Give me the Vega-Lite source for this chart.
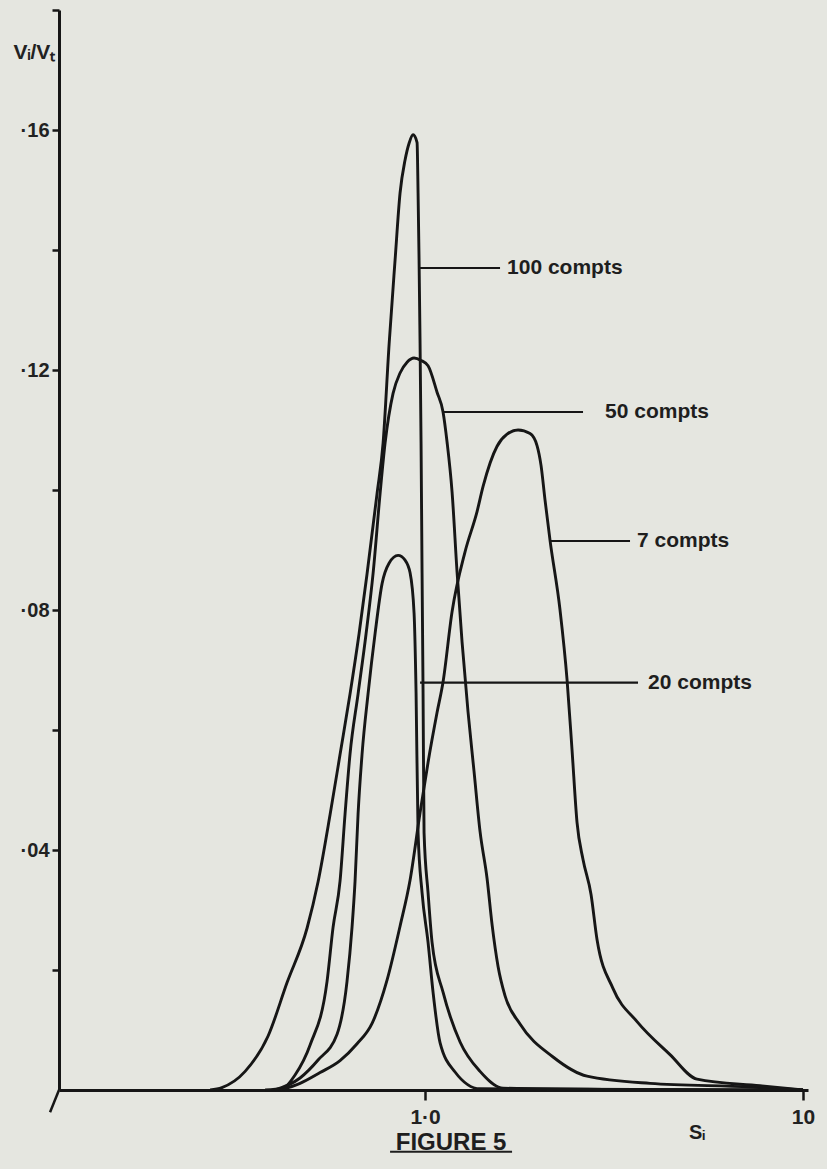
{
  "$schema": "https://vega.github.io/schema/vega-lite/v6.json",
  "width": 749,
  "height": 1080,
  "autosize": {"type": "none"},
  "padding": {"left": 59, "top": 10, "right": 19, "bottom": 79},
  "background": "#e5e6e0",
  "config": {"view": {"stroke": null}, "font": "Liberation Sans"},
  "datasets": {
    "curves": [
      {"c": "100", "s": 0.27, "v": 0},
      {"c": "100", "s": 0.29, "v": 0.0004},
      {"c": "100", "s": 0.3341, "v": 0.0031},
      {"c": "100", "s": 0.3843, "v": 0.009},
      {"c": "100", "s": 0.4314, "v": 0.0179},
      {"c": "100", "s": 0.4874, "v": 0.027},
      {"c": "100", "s": 0.5211, "v": 0.0347},
      {"c": "100", "s": 0.5607, "v": 0.0459},
      {"c": "100", "s": 0.5957, "v": 0.0559},
      {"c": "100", "s": 0.6331, "v": 0.066},
      {"c": "100", "s": 0.6688, "v": 0.076},
      {"c": "100", "s": 0.7022, "v": 0.086},
      {"c": "100", "s": 0.7464, "v": 0.0994},
      {"c": "100", "s": 0.7743, "v": 0.1078},
      {"c": "100", "s": 0.8035, "v": 0.1244},
      {"c": "100", "s": 0.833, "v": 0.1383},
      {"c": "100", "s": 0.8587, "v": 0.1495},
      {"c": "100", "s": 0.8853, "v": 0.155},
      {"c": "100", "s": 0.9073, "v": 0.1578},
      {"c": "100", "s": 0.9296, "v": 0.1592},
      {"c": "100", "s": 0.9525, "v": 0.1579},
      {"c": "100", "s": 0.9583, "v": 0.1495},
      {"c": "100", "s": 0.9641, "v": 0.1384},
      {"c": "100", "s": 0.97, "v": 0.1245},
      {"c": "100", "s": 0.9759, "v": 0.1079},
      {"c": "100", "s": 0.9819, "v": 0.0862},
      {"c": "100", "s": 0.9879, "v": 0.0662},
      {"c": "100", "s": 0.9939, "v": 0.0429},
      {"c": "100", "s": 1.0184, "v": 0.0329},
      {"c": "100", "s": 1.0436, "v": 0.0246},
      {"c": "100", "s": 1.1158, "v": 0.0163},
      {"c": "100", "s": 1.2378, "v": 0.008},
      {"c": "100", "s": 1.3979, "v": 0.0031},
      {"c": "100", "s": 1.6084, "v": 0.0003},
      {"c": "100", "s": 3.0, "v": 0.0001},
      {"c": "100", "s": 10, "v": 0},
      {"c": "50", "s": 0.3774, "v": 0},
      {"c": "50", "s": 0.421, "v": 0.0003},
      {"c": "50", "s": 0.4529, "v": 0.0025},
      {"c": "50", "s": 0.4964, "v": 0.0075},
      {"c": "50", "s": 0.5504, "v": 0.0181},
      {"c": "50", "s": 0.5709, "v": 0.0271},
      {"c": "50", "s": 0.5957, "v": 0.0348},
      {"c": "50", "s": 0.6142, "v": 0.046},
      {"c": "50", "s": 0.6331, "v": 0.056},
      {"c": "50", "s": 0.6649, "v": 0.066},
      {"c": "50", "s": 0.698, "v": 0.076},
      {"c": "50", "s": 0.7286, "v": 0.0861},
      {"c": "50", "s": 0.7603, "v": 0.0994},
      {"c": "50", "s": 0.7838, "v": 0.1078},
      {"c": "50", "s": 0.8229, "v": 0.1161},
      {"c": "50", "s": 0.8587, "v": 0.1195},
      {"c": "50", "s": 0.8962, "v": 0.1213},
      {"c": "50", "s": 0.9352, "v": 0.122},
      {"c": "50", "s": 0.9759, "v": 0.1216},
      {"c": "50", "s": 1.0184, "v": 0.1207},
      {"c": "50", "s": 1.0758, "v": 0.1163},
      {"c": "50", "s": 1.1158, "v": 0.113},
      {"c": "50", "s": 1.1434, "v": 0.108},
      {"c": "50", "s": 1.1788, "v": 0.0997},
      {"c": "50", "s": 1.2153, "v": 0.0863},
      {"c": "50", "s": 1.2528, "v": 0.0747},
      {"c": "50", "s": 1.2994, "v": 0.063},
      {"c": "50", "s": 1.3477, "v": 0.0531},
      {"c": "50", "s": 1.3979, "v": 0.0431},
      {"c": "50", "s": 1.4588, "v": 0.0353},
      {"c": "50", "s": 1.504, "v": 0.0276},
      {"c": "50", "s": 1.5601, "v": 0.0206},
      {"c": "50", "s": 1.6281, "v": 0.0157},
      {"c": "50", "s": 1.7836, "v": 0.011},
      {"c": "50", "s": 2.1814, "v": 0.0055},
      {"c": "50", "s": 2.6827, "v": 0.0023},
      {"c": "50", "s": 3.937, "v": 0.0011},
      {"c": "50", "s": 7.24, "v": 0.0005},
      {"c": "50", "s": 10, "v": 0},
      {"c": "20", "s": 0.401, "v": 0},
      {"c": "20", "s": 0.4669, "v": 0.002},
      {"c": "20", "s": 0.5211, "v": 0.005},
      {"c": "20", "s": 0.585, "v": 0.0093},
      {"c": "20", "s": 0.6216, "v": 0.0181},
      {"c": "20", "s": 0.641, "v": 0.0272},
      {"c": "20", "s": 0.6528, "v": 0.0348},
      {"c": "20", "s": 0.6649, "v": 0.046},
      {"c": "20", "s": 0.6813, "v": 0.056},
      {"c": "20", "s": 0.7065, "v": 0.066},
      {"c": "20", "s": 0.7376, "v": 0.0761},
      {"c": "20", "s": 0.7696, "v": 0.0844},
      {"c": "20", "s": 0.803, "v": 0.0878},
      {"c": "20", "s": 0.8484, "v": 0.0891},
      {"c": "20", "s": 0.8853, "v": 0.0883},
      {"c": "20", "s": 0.9128, "v": 0.0862},
      {"c": "20", "s": 0.9352, "v": 0.0795},
      {"c": "20", "s": 0.9467, "v": 0.0662},
      {"c": "20", "s": 0.9583, "v": 0.0429},
      {"c": "20", "s": 0.9819, "v": 0.0329},
      {"c": "20", "s": 1.0184, "v": 0.0246},
      {"c": "20", "s": 1.0499, "v": 0.0163},
      {"c": "20", "s": 1.0955, "v": 0.0079},
      {"c": "20", "s": 1.2005, "v": 0.003},
      {"c": "20", "s": 1.3979, "v": 0.0002},
      {"c": "20", "s": 10, "v": 0},
      {"c": "7", "s": 0.4134, "v": 0},
      {"c": "7", "s": 0.4669, "v": 0.0011},
      {"c": "7", "s": 0.5275, "v": 0.0029},
      {"c": "7", "s": 0.5957, "v": 0.0049},
      {"c": "7", "s": 0.6608, "v": 0.0077},
      {"c": "7", "s": 0.7241, "v": 0.0111},
      {"c": "7", "s": 0.7932, "v": 0.0183},
      {"c": "7", "s": 0.8587, "v": 0.0273},
      {"c": "7", "s": 0.9128, "v": 0.035},
      {"c": "7", "s": 0.97, "v": 0.0462},
      {"c": "7", "s": 1.0184, "v": 0.0546},
      {"c": "7", "s": 1.0758, "v": 0.0629},
      {"c": "7", "s": 1.1158, "v": 0.068},
      {"c": "7", "s": 1.1788, "v": 0.0797},
      {"c": "7", "s": 1.2758, "v": 0.0897},
      {"c": "7", "s": 1.3727, "v": 0.0964},
      {"c": "7", "s": 1.424, "v": 0.1006},
      {"c": "7", "s": 1.5508, "v": 0.1073},
      {"c": "7", "s": 1.648, "v": 0.1093},
      {"c": "7", "s": 1.7624, "v": 0.11},
      {"c": "7", "s": 1.8957, "v": 0.1094},
      {"c": "7", "s": 1.9782, "v": 0.1074},
      {"c": "7", "s": 2.027, "v": 0.1041},
      {"c": "7", "s": 2.0772, "v": 0.0983},
      {"c": "7", "s": 2.1414, "v": 0.0916},
      {"c": "7", "s": 2.2758, "v": 0.08},
      {"c": "7", "s": 2.3752, "v": 0.0684},
      {"c": "7", "s": 2.4484, "v": 0.0567},
      {"c": "7", "s": 2.524, "v": 0.0446},
      {"c": "7", "s": 2.618, "v": 0.0384},
      {"c": "7", "s": 2.749, "v": 0.0326},
      {"c": "7", "s": 2.851, "v": 0.0251},
      {"c": "7", "s": 3.1438, "v": 0.0169},
      {"c": "7", "s": 3.6383, "v": 0.0114},
      {"c": "7", "s": 4.4478, "v": 0.0059},
      {"c": "7", "s": 5.244, "v": 0.0018},
      {"c": "7", "s": 7.695, "v": 0.0007},
      {"c": "7", "s": 10, "v": 0}
    ],
    "labels": [
      {"label": "100 compts", "s1": 0.97, "s2": 1.579, "st": 1.648, "v": 0.137},
      {"label": "50 compts", "s1": 1.1158, "s2": 2.618, "st": 2.994, "v": 0.113},
      {"label": "7 compts", "s1": 2.1414, "s2": 3.486, "st": 3.638, "v": 0.0915},
      {"label": "20 compts", "s1": 0.97, "s2": 3.66, "st": 3.89, "v": 0.0679}
    ]
  },
  "layer": [
    {
      "data": {"name": "curves"},
      "mark": {"type": "line", "color": "#161616", "strokeWidth": 2.9, "interpolate": "monotone"},
      "encoding": {
        "x": {
          "field": "s", "type": "quantitative", "title": null,
          "scale": {"type": "log", "domain": [0.1075, 10.31], "nice": false},
          "axis": {
            "values": [1, 10],
            "labelExpr": "datum.value == 1 ? '1·0' : '10'",
            "title": null, "grid": false,
            "domainColor": "#161616", "domainWidth": 3,
            "tickColor": "#161616", "tickWidth": 2.5, "tickSize": 10,
            "labelFontSize": 21, "labelFontWeight": "bold", "labelColor": "#222222",
            "labelPadding": 6, "labelFlush": false, "labelOverlap": false
          }
        },
        "y": {
          "field": "v", "type": "quantitative", "title": "Vᵢ/Vₜ",
          "scale": {"domain": [0, 0.18], "nice": false, "zero": false},
          "axis": {
            "values": [0.02, 0.04, 0.06, 0.08, 0.1, 0.12, 0.14, 0.16, 0.18],
            "labelExpr": "datum.value == 0.04 ? '·04' : datum.value == 0.08 ? '·08' : datum.value == 0.12 ? '·12' : datum.value == 0.16 ? '·16' : ''",
            "title": "Vᵢ/Vₜ", "titleAngle": 0, "titleX": -46, "titleY": 48,
            "titleAlign": "left", "titleBaseline": "alphabetic",
            "titleFontSize": 21, "titleFontWeight": "bold", "titleColor": "#222222",
            "grid": false,
            "domainColor": "#161616", "domainWidth": 3,
            "tickColor": "#161616", "tickWidth": 2.5, "tickSize": 7,
            "labelFontSize": 20, "labelFontWeight": "bold", "labelColor": "#222222",
            "labelPadding": 3, "labelOverlap": false
          }
        },
        "detail": {"field": "c", "type": "nominal"}
      }
    },
    {
      "data": {"name": "labels"},
      "mark": {"type": "rule", "color": "#161616", "strokeWidth": 2.2},
      "encoding": {
        "x": {"field": "s1", "type": "quantitative", "title": null, "scale": {"type": "log", "domain": [0.1075, 10.31], "nice": false}},
        "x2": {"field": "s2"},
        "y": {"field": "v", "type": "quantitative", "scale": {"domain": [0, 0.18], "nice": false, "zero": false}}
      }
    },
    {
      "data": {"name": "labels"},
      "mark": {"type": "text", "align": "left", "baseline": "middle", "fontSize": 21, "fontWeight": "bold", "color": "#1e1e1e"},
      "encoding": {
        "x": {"field": "st", "type": "quantitative", "title": null, "scale": {"type": "log", "domain": [0.1075, 10.31], "nice": false}},
        "y": {"field": "v", "type": "quantitative", "scale": {"domain": [0, 0.18], "nice": false, "zero": false}},
        "text": {"field": "label"}
      }
    },
    {
      "data": {"values": [{}]},
      "mark": {"type": "text", "align": "center", "baseline": "middle", "fontSize": 24, "fontWeight": "bold", "color": "#1e1e1e"},
      "encoding": {
        "x": {"datum": 1.172, "type": "quantitative", "title": null, "scale": {"type": "log", "domain": [0.1075, 10.31], "nice": false}},
        "y": {"datum": -0.0088, "type": "quantitative", "scale": {"domain": [0, 0.18], "nice": false, "zero": false}},
        "text": {"value": "FIGURE 5"}
      }
    },
    {
      "data": {"values": [{}]},
      "mark": {"type": "rule", "color": "#1e1e1e", "strokeWidth": 2},
      "encoding": {
        "x": {"datum": 0.808, "type": "quantitative", "title": null, "scale": {"type": "log", "domain": [0.1075, 10.31], "nice": false}},
        "x2": {"datum": 1.699},
        "y": {"datum": -0.0103, "type": "quantitative", "scale": {"domain": [0, 0.18], "nice": false, "zero": false}}
      }
    },
    {
      "data": {"values": [{}]},
      "mark": {"type": "text", "align": "center", "baseline": "middle", "fontSize": 20, "fontWeight": "bold", "color": "#1e1e1e"},
      "encoding": {
        "x": {"datum": 5.244, "type": "quantitative", "title": null, "scale": {"type": "log", "domain": [0.1075, 10.31], "nice": false}},
        "y": {"datum": -0.0072, "type": "quantitative", "scale": {"domain": [0, 0.18], "nice": false, "zero": false}},
        "text": {"value": "Sᵢ"}
      }
    },
    {
      "data": {"values": [{}]},
      "mark": {"type": "rule", "color": "#161616", "strokeWidth": 2.5},
      "encoding": {
        "x": {"datum": 0.1075, "type": "quantitative", "title": null, "scale": {"type": "log", "domain": [0.1075, 10.31], "nice": false}},
        "x2": {"datum": 0.1018},
        "y": {"datum": 0, "type": "quantitative", "scale": {"domain": [0, 0.18], "nice": false, "zero": false}},
        "y2": {"datum": -0.0037}
      }
    }
  ]
}
